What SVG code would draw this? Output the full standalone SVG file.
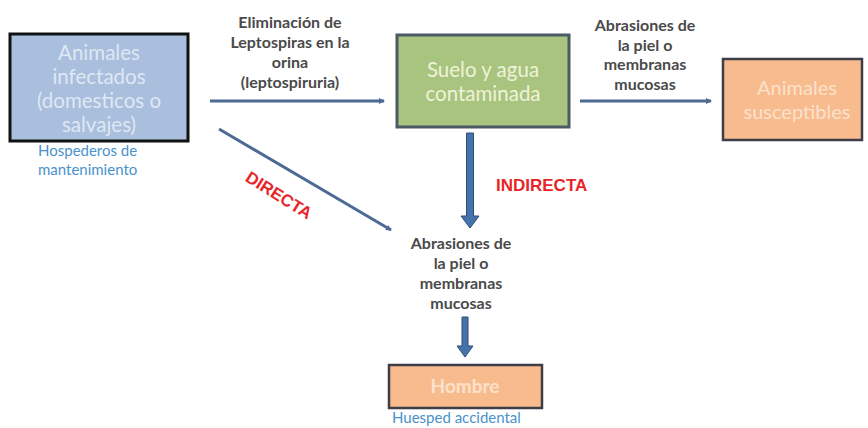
<svg xmlns="http://www.w3.org/2000/svg" width="868" height="428" viewBox="0 0 868 428">
<defs>
<style>
.lbl{font-family:Lato,"Open Sans",sans-serif;font-size:16px;font-weight:bold;fill:#4a4a4a;text-anchor:middle}
.in{font-family:Lato,"Open Sans",sans-serif;text-anchor:middle}
.note{font-family:Lato,"Open Sans",sans-serif;font-size:15px;fill:#4a92cc}
.red{font-family:"Liberation Sans",Arial,sans-serif;font-size:17px;font-weight:bold;fill:#e8262a}
.thin{stroke:#4d6a94;stroke-width:3;fill:none}
.thick{fill:#4573aa;stroke:#2f4d78;stroke-width:1}
</style>
<marker id="ah" markerWidth="8" markerHeight="8" refX="5" refY="4" orient="auto" markerUnits="userSpaceOnUse">
<path d="M0,1 L6,4 L0,7 Z" fill="#4d6a94"/>
</marker>
</defs>
<rect width="868" height="428" fill="#ffffff"/>
<g id="connectors">
<line class="thin" x1="210" y1="101" x2="384" y2="101" marker-end="url(#ah)"/>
<line class="thin" x1="580" y1="101" x2="711" y2="101" marker-end="url(#ah)"/>
<line class="thin" x1="219" y1="129" x2="391" y2="230" marker-end="url(#ah)"/>
<polygon class="thick" points="466.5,133 473.5,133 473.5,216 479,216 470,228 461,216 466.5,216"/>
<polygon class="thick" points="462,317 468,317 468,346 473,346 465,357 457,346 462,346"/>
<text class="red" x="496" y="191">INDIRECTA</text>
<text class="red" transform="translate(279,195) rotate(32)" text-anchor="middle" y="6">DIRECTA</text>
</g>
<g id="lbl-eliminacion">
<text class="lbl" x="290" y="28">Eliminación de</text>
<text class="lbl" x="290" y="48">Leptospiras en la</text>
<text class="lbl" x="290" y="68">orina</text>
<text class="lbl" x="290" y="88">(leptospiruria)</text>
</g>
<g id="lbl-abrasiones-top">
<text class="lbl" x="645" y="31">Abrasiones de</text>
<text class="lbl" x="645" y="50.5">la piel o</text>
<text class="lbl" x="645" y="70">membranas</text>
<text class="lbl" x="645" y="89.5">mucosas</text>
</g>
<g id="node-animales-infectados">
<rect x="10" y="34" width="178" height="107" fill="#a9bfdd" stroke="#111111" stroke-width="3"/>
<text class="in" x="99" y="60" font-size="20.5" fill="#dfe8f3">Animales</text>
<text class="in" x="99" y="84" font-size="20.5" fill="#dfe8f3">infectados</text>
<text class="in" x="99" y="108" font-size="20.5" fill="#dfe8f3">(domesticos o</text>
<text class="in" x="99" y="132" font-size="20.5" fill="#dfe8f3">salvajes)</text>
<text class="note" x="38" y="156">Hospederos de</text>
<text class="note" x="38" y="175">mantenimiento</text>
</g>
<g id="node-suelo">
<rect x="397" y="35" width="172" height="92" fill="#a9c47f" stroke="#4a5a66" stroke-width="3"/>
<text class="in" x="483" y="77" font-size="20.5" fill="#eef3d8">Suelo y agua</text>
<text class="in" x="483" y="101" font-size="20.5" fill="#eef3d8">contaminada</text>
</g>
<g id="node-animales-susceptibles">
<rect x="723" y="59" width="139" height="81" fill="#f8bb8e" stroke="#3e3e48" stroke-width="2.5"/>
<text class="in" x="797" y="95" font-size="20" fill="#fce2cc">Animales</text>
<text class="in" x="797" y="119" font-size="20" fill="#fce2cc">susceptibles</text>
</g>
<g id="lbl-abrasiones-bottom">
<text class="lbl" x="461" y="249">Abrasiones de</text>
<text class="lbl" x="461" y="269">la piel o</text>
<text class="lbl" x="461" y="289">membranas</text>
<text class="lbl" x="461" y="309">mucosas</text>
</g>
<g id="node-hombre">
<rect x="389" y="365" width="153" height="43" fill="#f8bb8e" stroke="#3e3e48" stroke-width="2.5"/>
<text class="in" x="465" y="393" font-size="19" font-weight="bold" fill="#fce2cc">Hombre</text>
<text class="note" x="392" y="423" font-size="16.5">Huesped accidental</text>
</g>
</svg>
